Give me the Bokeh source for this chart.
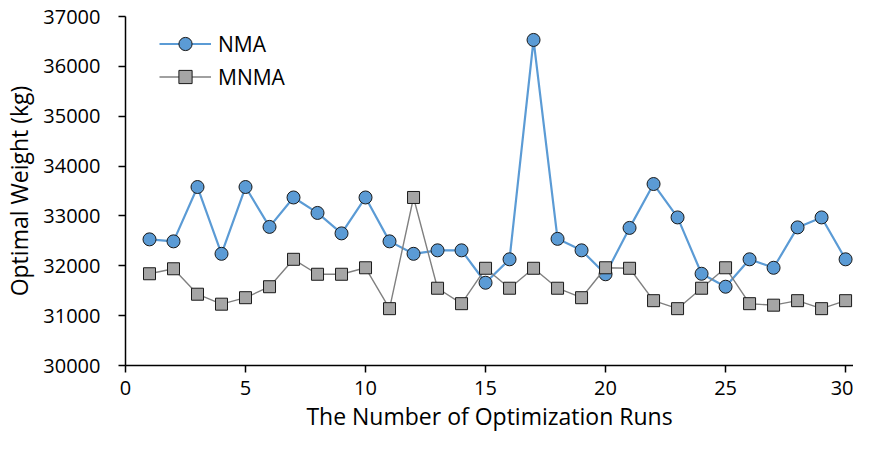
from bokeh.plotting import figure
from bokeh.models import Range1d, FixedTicker, Legend, LegendItem
from bokeh.embed import file_html
from bokeh.resources import INLINE

runs = list(range(1, 31))
nma = [32530, 32490, 33580, 32240, 33580, 32780, 33370, 33060, 32650, 33370,
       32490, 32240, 32310, 32310, 31660, 32130, 36530, 32540, 32310, 31830,
       32760, 33640, 32970, 31840, 31580, 32130, 31960, 32770, 32970, 32130]
mnma = [31840, 31940, 31430, 31230, 31360, 31580, 32130, 31830, 31830, 31960,
        31140, 33370, 31550, 31240, 31950, 31550, 31950, 31550, 31360, 31960,
        31950, 31300, 31140, 31550, 31960, 31240, 31210, 31300, 31140, 31300]
x_ticks = [0, 5, 10, 15, 20, 25, 30]
y_ticks = [30000, 31000, 32000, 33000, 34000, 35000, 36000, 37000]

FONT = "Open Sans"

p = figure(width=853, height=434, output_backend="svg", toolbar_location=None,
           x_range=Range1d(0, 30.33), y_range=Range1d(30000, 37000),
           min_border_left=117, min_border_right=0, min_border_top=16,
           min_border_bottom=68)
p.outline_line_color = None
p.xgrid.visible = False
p.ygrid.visible = False

l1 = p.line(runs, nma, line_color="#5B9BD5", line_width=2.2)
s1 = p.scatter(runs, nma, marker="circle", size=13, fill_color="#5B9BD5",
               line_color="#1a1a1a", line_width=1)
l2 = p.line(runs, mnma, line_color="#808080", line_width=1.4)
s2 = p.scatter(runs, mnma, marker="square", size=12, fill_color="#A5A5A5",
               line_color="#1a1a1a", line_width=1)

for ax in (p.xaxis[0], p.yaxis[0]):
    ax.axis_line_color = "black"
    ax.axis_line_width = 1.5
    ax.major_tick_line_color = "black"
    ax.major_tick_line_width = 1.5
    ax.major_tick_in = 0
    ax.major_tick_out = 7
    ax.minor_tick_line_color = None
    ax.major_label_text_font = FONT
    ax.major_label_text_font_size = "20px"
    ax.major_label_text_color = "#000000"
    ax.axis_label_text_font = FONT
    ax.axis_label_text_font_size = "23px"
    ax.axis_label_text_font_style = "normal"
    ax.axis_label_text_color = "#000000"

p.xaxis.ticker = FixedTicker(ticks=x_ticks)
p.yaxis.ticker = FixedTicker(ticks=y_ticks)
p.xaxis.major_label_standoff = 8
p.yaxis.major_label_standoff = 18
p.xaxis.axis_label = "The Number of Optimization Runs"
p.yaxis.axis_label = "Optimal Weight (kg)"
p.xaxis.axis_label_standoff = 2
p.yaxis.axis_label_standoff = 5

legend = Legend(items=[LegendItem(label="NMA", renderers=[l1, s1]),
                       LegendItem(label="MNMA", renderers=[l2, s2])],
                location=(34, 272), orientation="vertical")
legend.background_fill_alpha = 0
legend.border_line_color = None
legend.padding = 0
legend.margin = 0
legend.spacing = 0
legend.glyph_width = 52
legend.glyph_height = 33
legend.label_height = 33
legend.label_standoff = 7
legend.label_text_font = FONT
legend.label_text_font_size = "21px"
legend.label_text_color = "#000000"
p.add_layout(legend)

open("out.html", "w").write(file_html(p, INLINE))
